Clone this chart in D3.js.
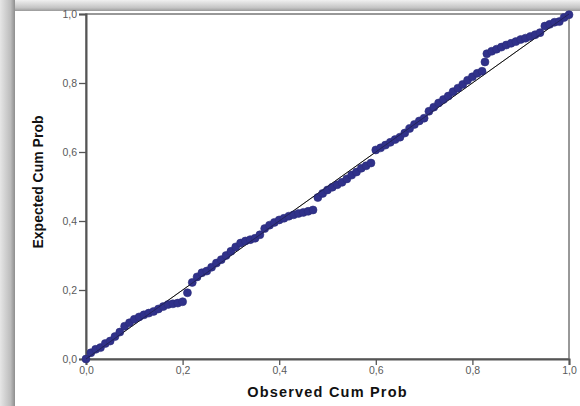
<!DOCTYPE html>
<html>
<head>
<meta charset="utf-8">
<script src="https://cdn.jsdelivr.net/npm/d3@7"></script>
<style>
  body { margin: 0; background: #fff; }
  svg { display: block; font-family: "Liberation Sans", Arial, sans-serif; }
</style>
</head>
<body>
<div id="chart"></div>
<script>
// Observed vs expected cumulative probability (P-P plot)
const observed = [
  0.00, 0.01, 0.02, 0.03, 0.04, 0.05, 0.06, 0.07, 0.08, 0.09,
  0.10, 0.11, 0.12, 0.13, 0.14, 0.15, 0.16, 0.17, 0.18, 0.19,
  0.20, 0.21, 0.22, 0.23, 0.24, 0.25, 0.26, 0.27, 0.28, 0.29,
  0.30, 0.31, 0.32, 0.33, 0.34, 0.35, 0.36, 0.37, 0.38, 0.39,
  0.40, 0.41, 0.42, 0.43, 0.44, 0.45, 0.46, 0.47, 0.48, 0.49,
  0.50, 0.51, 0.52, 0.53, 0.54, 0.55, 0.56, 0.57, 0.58, 0.59,
  0.60, 0.61, 0.62, 0.63, 0.64, 0.65, 0.66, 0.67, 0.68, 0.69,
  0.70, 0.71, 0.72, 0.73, 0.74, 0.75, 0.76, 0.77, 0.78, 0.79,
  0.80, 0.81, 0.82, 0.826, 0.83, 0.84, 0.85, 0.86, 0.87, 0.88,
  0.89, 0.90, 0.91, 0.92, 0.93, 0.94, 0.95, 0.96, 0.97, 0.98,
  0.99, 1.00
];
const expected = [
  0.000, 0.018, 0.028, 0.033, 0.045, 0.052, 0.065, 0.078, 0.095, 0.105,
  0.115, 0.122, 0.128, 0.133, 0.138, 0.145, 0.152, 0.158, 0.160, 0.162,
  0.166, 0.192, 0.222, 0.238, 0.250, 0.255, 0.266, 0.278, 0.288, 0.300,
  0.312, 0.325, 0.336, 0.342, 0.346, 0.350, 0.360, 0.378, 0.388, 0.396,
  0.403, 0.408, 0.414, 0.418, 0.422, 0.425, 0.428, 0.432, 0.468, 0.480,
  0.490, 0.498, 0.505, 0.512, 0.522, 0.533, 0.542, 0.553, 0.560, 0.568,
  0.606, 0.612, 0.620, 0.628, 0.636, 0.643, 0.655, 0.668, 0.680, 0.690,
  0.698, 0.718, 0.730, 0.742, 0.752, 0.762, 0.775, 0.785, 0.796, 0.808,
  0.818, 0.828, 0.834, 0.861, 0.885, 0.892, 0.898, 0.904, 0.910, 0.915,
  0.920, 0.926, 0.930, 0.935, 0.940, 0.946, 0.965, 0.970, 0.976, 0.978,
  0.990, 0.998
];
const ticks = [0, 0.2, 0.4, 0.6, 0.8, 1.0];
const xTitle = "Observed Cum Prob";
const yTitle = "Expected Cum Prob";

const W = 580, H = 406;
const margin = { top: 14, right: 11, bottom: 47, left: 86 };
const width = W - margin.left - margin.right;
const height = H - margin.top - margin.bottom;

const svg = d3.select("#chart").append("svg")
  .attr("width", W)
  .attr("height", H);

// shadow frame around the white panel
const defs = svg.append("defs");
const gl = defs.append("linearGradient").attr("id", "shadeLeft")
  .attr("x1", "0").attr("x2", "1").attr("y1", "0").attr("y2", "0");
gl.append("stop").attr("offset", "0%").attr("stop-color", "#e6e6e6");
gl.append("stop").attr("offset", "70%").attr("stop-color", "#bdbdbd");
gl.append("stop").attr("offset", "100%").attr("stop-color", "#8e8e8e");
const gt = defs.append("linearGradient").attr("id", "shadeTop")
  .attr("x1", "0").attr("x2", "0").attr("y1", "0").attr("y2", "1");
gt.append("stop").attr("offset", "0%").attr("stop-color", "#f0f0f0");
gt.append("stop").attr("offset", "70%").attr("stop-color", "#c4c4c4");
gt.append("stop").attr("offset", "100%").attr("stop-color", "#9a9a9a");

svg.append("rect").attr("x", 0).attr("y", 0).attr("width", W).attr("height", 11)
  .attr("fill", "url(#shadeTop)");
svg.append("rect").attr("x", 0).attr("y", 0).attr("width", 15).attr("height", H)
  .attr("fill", "url(#shadeLeft)");
svg.append("rect").attr("x", 15).attr("y", 11).attr("width", W - 15).attr("height", H - 11)
  .attr("fill", "#fff");

const g = svg.append("g")
  .attr("transform", "translate(" + margin.left + "," + margin.top + ")");

const x = d3.scaleLinear().domain([0, 1]).range([0, width]);
const y = d3.scaleLinear().domain([0, 1]).range([height, 0]);

const fmt = d => d3.format(".1f")(d).replace(".", ",");

// plot frame
g.append("rect")
  .attr("width", width).attr("height", height)
  .attr("fill", "none").attr("stroke", "#777").attr("stroke-width", 1.5);

// axes
const xAxis = g.append("g")
  .attr("transform", "translate(0," + height + ")")
  .call(d3.axisBottom(x).tickValues(ticks).tickFormat(fmt).tickSize(6).tickPadding(2));
const yAxis = g.append("g")
  .call(d3.axisLeft(y).tickValues(ticks).tickFormat(fmt).tickSize(7).tickPadding(2));

[xAxis, yAxis].forEach(a => {
  a.select(".domain").attr("stroke", "#555").attr("stroke-width", 2);
  a.selectAll(".tick line").attr("stroke", "#555").attr("stroke-width", 1.3);
  a.selectAll(".tick text")
    .attr("fill", "#5a5a5a")
    .style("font-size", "10.5px")
    .style("font-family", "'Liberation Sans', Arial, sans-serif");
});

// reference diagonal
g.append("line")
  .attr("x1", x(0)).attr("y1", y(0))
  .attr("x2", x(1)).attr("y2", y(1))
  .attr("stroke", "#111").attr("stroke-width", 1);

// points
const pts = observed.map((o, i) => ({ o: o, e: expected[i] }));
g.selectAll("circle.pt")
  .data(pts)
  .enter()
  .append("circle")
  .attr("class", "pt")
  .attr("cx", d => x(d.o))
  .attr("cy", d => y(d.e))
  .attr("r", 4)
  .attr("fill", "#30318a")
  .attr("stroke", "#2a2b7a")
  .attr("stroke-width", 0.6);

// diagonal drawn again faintly over points
g.append("line")
  .attr("x1", x(0)).attr("y1", y(0))
  .attr("x2", x(1)).attr("y2", y(1))
  .attr("stroke", "#111").attr("stroke-width", 0.8).attr("opacity", 0.5);

// axis titles
svg.append("text")
  .attr("x", margin.left + width / 2)
  .attr("y", 397)
  .attr("text-anchor", "middle")
  .style("font-size", "14.5px")
  .style("font-weight", "bold")
  .style("letter-spacing", "1.2px")
  .attr("fill", "#111")
  .text(xTitle);

svg.append("text")
  .attr("transform", "translate(43," + 182 + ") rotate(-90)")
  .attr("text-anchor", "middle")
  .style("font-size", "14px")
  .style("font-weight", "bold")
  .attr("fill", "#111")
  .text(yTitle);
</script>
</body>
</html>
